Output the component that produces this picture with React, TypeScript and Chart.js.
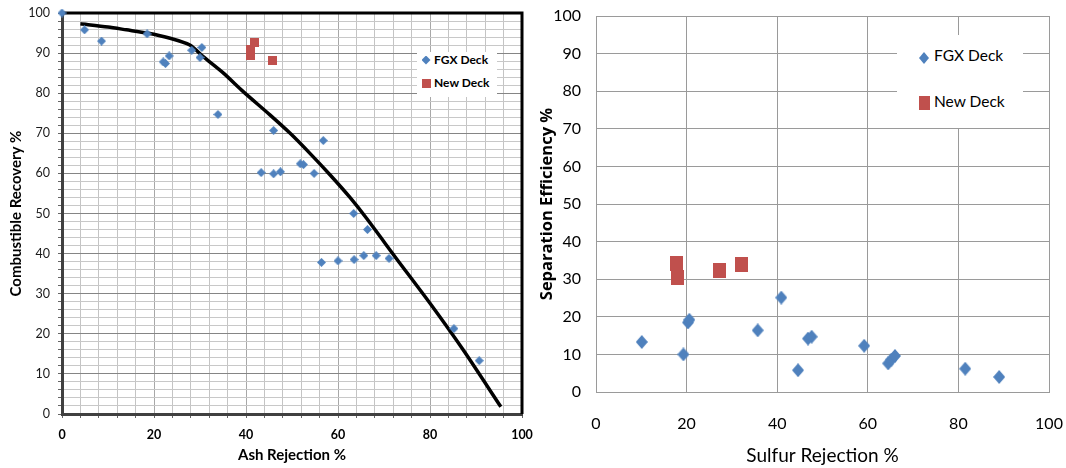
import React, { useEffect, useRef } from "react";
import { Chart, registerables } from "chart.js";
Chart.register(...registerables);

// ---------- Left chart data: Ash Rejection % vs Combustible Recovery % ----------
const fgxAshRejection = [0, 4.9, 8.6, 18.5, 22, 22.5, 23.3, 28.2, 30, 30.4, 33.9, 43.3, 46, 56.8, 46, 47.5, 51.8, 52.5, 54.8, 63.4, 66.4, 56.4, 60, 63.5, 65.6, 68.3, 71.1, 85.2, 90.7];
const fgxCombustibleRecovery = [100, 95.8, 93, 94.8, 87.8, 87.4, 89.3, 90.7, 88.9, 91.4, 74.7, 60.2, 70.7, 68.2, 59.9, 60.4, 62.4, 62.2, 60, 50, 46, 37.8, 38.2, 38.5, 39.5, 39.5, 38.8, 21.3, 13.3];
const newAshRejection = [41, 41, 41.9, 45.8];
const newCombustibleRecovery = [91, 89.5, 92.7, 88.2];
const trendAshRejection = [4, 10, 14, 18.5, 23.5, 27.8, 30.7, 35.1, 39.4, 45.2, 49.6, 53.9, 58.3, 62.6, 66.2, 72.8, 80, 87.2, 95.4];
const trendCombustibleRecovery = [97.3, 96.5, 95.8, 95, 93.7, 92, 89.1, 85, 80.4, 74.6, 70, 65, 59.6, 54, 48.8, 38.6, 27.6, 16, 1.8];

// ---------- Right chart data: Sulfur Rejection % vs Separation Efficiency % ----------
const fgxSulfurRejection = [10.1, 19.3, 20.3, 20.6, 35.7, 40.9, 44.6, 46.8, 47.6, 59.2, 64.5, 65.2, 66, 81.5, 89];
const fgxSeparationEfficiency = [13.3, 10, 18.5, 19.2, 16.4, 25.1, 5.8, 14.2, 14.7, 12.3, 7.6, 8.6, 9.6, 6.2, 4];
const newSulfurRejection = [17.7, 18.1, 27.2, 32.2];
const newSeparationEfficiency = [34.2, 30.5, 32.3, 34];

const seriesNames = ["FGX Deck", "New Deck"];
const leftXTitle = "Ash Rejection %";
const leftYTitle = "Combustible Recovery %";
const rightXTitle = "Sulfur Rejection %";
const rightYTitle = "Separation Efficiency %";

const BLUE = "#4F81BD";
const RED = "#C0504D";
const LEFT_FONT = "Lato, 'Open Sans', sans-serif";
const RIGHT_FONT = "Lato, 'Open Sans', sans-serif";
const RIGHT_TITLE_FONT = "'Open Sans', Lato, sans-serif";

function marker(shape: string, w: number, h: number, color: string) {
  const c = document.createElement("canvas");
  c.width = w;
  c.height = h;
  const ctx = c.getContext("2d")!;
  ctx.fillStyle = color;
  ctx.beginPath();
  if (shape === "diamond") {
    ctx.moveTo(w / 2, 0);
    ctx.lineTo(w, h / 2);
    ctx.lineTo(w / 2, h);
    ctx.lineTo(0, h / 2);
    ctx.closePath();
  } else {
    ctx.rect(0, 0, w, h);
  }
  ctx.fill();
  return c;
}

const pts = (xs: number[], ys: number[]) => xs.map((x, i) => ({ x, y: ys[i] }));

const framePlugin = {
  id: "frame",
  beforeDatasetsDraw(chart: any) {
    const { ctx, chartArea: a } = chart;
    ctx.save();
    ctx.strokeStyle = "#000";
    ctx.lineWidth = 3;
    ctx.beginPath();
    ctx.moveTo(a.left, a.top);
    ctx.lineTo(a.right, a.top);
    ctx.lineTo(a.right, a.bottom);
    ctx.stroke();
    ctx.restore();
  },
};

const noPad = (s: any) => {
  s.paddingLeft = 0;
  s.paddingRight = 0;
  s.paddingTop = 0;
  s.paddingBottom = 0;
};

export default function App() {
  const leftRef = useRef<HTMLCanvasElement>(null);
  const rightRef = useRef<HTMLCanvasElement>(null);

  useEffect(() => {
    let charts: Chart[] = [];
    let cancelled = false;
    const build = () => {
      if (cancelled) return;
      const left = new Chart(leftRef.current!, {
        type: "scatter",
        data: {
          datasets: [
            {
              label: seriesNames[0],
              data: pts(fgxAshRejection, fgxCombustibleRecovery),
              pointStyle: marker("diamond", 9, 9, BLUE) as any,
              pointRadius: 5,
              order: 1,
              clip: false as any,
            },
            {
              label: seriesNames[1],
              data: pts(newAshRejection, newCombustibleRecovery),
              pointStyle: marker("square", 9, 9, RED) as any,
              pointRadius: 5,
              order: 1,
              clip: false as any,
            },
            {
              label: "Trend",
              data: pts(trendAshRejection, trendCombustibleRecovery),
              showLine: true,
              borderColor: "#000",
              borderWidth: 3.5,
              pointRadius: 0,
              tension: 0.25,
              order: 3,
              clip: false as any,
            } as any,
          ],
        },
        options: {
          animation: false,
          responsive: false,
          devicePixelRatio: 1,
          layout: { padding: { top: 13, right: 13, left: 0, bottom: 0 } },
          plugins: { legend: { display: false }, tooltip: { enabled: false } },
          scales: {
            x: {
              type: "linear",
              min: 0,
              max: 100,
              ticks: {
                stepSize: 4,
                autoSkip: false,
                maxRotation: 0,
                callback: (v: any) => (v % 20 === 0 ? String(v) : ""),
                font: { family: LEFT_FONT, size: 12.5, weight: "bold" },
                color: "#000",
                padding: 9,
              },
              grid: {
                color: (c: any) => (c.tick && c.tick.value % 20 === 0 ? "#a8a8a8" : "#c4c4c4"),
                tickLength: 4,
                tickColor: "#666",
              },
              border: { color: "#404040", width: 3 },
              title: {
                display: true,
                text: leftXTitle,
                font: { family: LEFT_FONT, size: 15, weight: "bold" },
                color: "#000",
                padding: { top: 0, bottom: 4 },
              },
              afterFit: (s: any) => {
                s.height = 54;
                noPad(s);
              },
            },
            y: {
              type: "linear",
              min: 0,
              max: 100,
              ticks: {
                stepSize: 2,
                autoSkip: false,
                callback: (v: any) => (v % 10 === 0 ? String(v) : ""),
                font: { family: LEFT_FONT, size: 12.5 },
                color: "#1a1a1a",
                padding: 8,
              },
              grid: {
                color: (c: any) => (c.tick && c.tick.value % 10 === 0 ? "#858585" : "#c8c8c8"),
                tickLength: 4,
                tickColor: "#666",
              },
              border: { color: "#404040", width: 3 },
              title: {
                display: true,
                text: leftYTitle,
                font: { family: LEFT_FONT, size: 15, weight: "bold" },
                color: "#000",
                padding: { top: 7, bottom: 0 },
              },
              afterFit: (s: any) => {
                s.width = 62;
                noPad(s);
              },
            },
          },
        } as any,
        plugins: [framePlugin],
      });

      const right = new Chart(rightRef.current!, {
        type: "scatter",
        data: {
          datasets: [
            {
              label: seriesNames[0],
              data: pts(fgxSulfurRejection, fgxSeparationEfficiency),
              pointStyle: marker("diamond", 12, 14, BLUE) as any,
              pointRadius: 6,
              clip: false as any,
            },
            {
              label: seriesNames[1],
              data: pts(newSulfurRejection, newSeparationEfficiency),
              pointStyle: marker("square", 13, 15, RED) as any,
              pointRadius: 6,
              clip: false as any,
            },
          ],
        },
        options: {
          animation: false,
          responsive: false,
          devicePixelRatio: 1,
          layout: { padding: { top: 16, right: 17, left: 0, bottom: 0 } },
          plugins: { legend: { display: false }, tooltip: { enabled: false } },
          scales: {
            x: {
              type: "linear",
              min: 0,
              max: 100,
              ticks: {
                stepSize: 20,
                maxRotation: 0,
                font: { family: RIGHT_FONT, size: 16 },
                color: "#000",
                padding: 22,
              },
              grid: { color: "#9a9a9a", drawTicks: false },
              border: { color: "#9a9a9a", width: 1 },
              title: {
                display: true,
                text: rightXTitle,
                font: { family: RIGHT_FONT, size: 19 },
                color: "#000",
                padding: { top: 0, bottom: 1 },
              },
              afterFit: (s: any) => {
                s.height = 76;
                noPad(s);
              },
            },
            y: {
              type: "linear",
              min: 0,
              max: 100,
              ticks: {
                stepSize: 10,
                font: { family: RIGHT_FONT, size: 16 },
                color: "#000",
                padding: 15,
              },
              grid: { color: "#9a9a9a", drawTicks: false },
              border: { color: "#9a9a9a", width: 1 },
              title: {
                display: true,
                text: rightYTitle,
                font: { family: RIGHT_TITLE_FONT, size: 16.5, weight: "bold" },
                color: "#000",
                padding: { top: 2, bottom: 0 },
              },
              afterFit: (s: any) => {
                s.width = 61;
                noPad(s);
              },
            },
          },
        } as any,
      });
      charts = [left, right];
    };

    const loads = ["12px Lato", "bold 12px Lato", "bold 14px 'Open Sans'"].map((f) =>
      (document as any).fonts?.load(f).catch(() => null)
    );
    Promise.all(loads).then(build, build);

    return () => {
      cancelled = true;
      charts.forEach((c) => c.destroy());
    };
  }, []);

  const diamondClip = "polygon(50% 0, 100% 50%, 50% 100%, 0 50%)";
  const abs = (s: any) => ({ position: "absolute" as const, ...s });

  return (
    <div style={abs({ left: 0, top: 0, width: 1066, height: 468, background: "#fff", overflow: "hidden" })}>
      <canvas ref={leftRef} width={535} height={468} style={abs({ left: 0, top: 0 })} />
      <canvas ref={rightRef} width={531} height={468} style={abs({ left: 535, top: 0 })} />

      {/* Left legend */}
      <div style={abs({ left: 417, top: 52, width: 80, height: 45, background: "#fff" })} />
      <div style={abs({ left: 421.5, top: 55.5, width: 9, height: 9, background: BLUE, clipPath: diamondClip })} />
      <div style={abs({ left: 434, top: 52, height: 16, lineHeight: "16px", font: `bold 12px ${LEFT_FONT}`, color: "#000", whiteSpace: "nowrap" })}>{seriesNames[0]}</div>
      <div style={abs({ left: 422, top: 79, width: 9, height: 9, background: RED })} />
      <div style={abs({ left: 434, top: 75, height: 16, lineHeight: "16px", font: `bold 12px ${LEFT_FONT}`, color: "#000", whiteSpace: "nowrap" })}>{seriesNames[1]}</div>

      {/* Right legend */}
      <div style={abs({ left: 897, top: 35, width: 126, height: 93, background: "#fff" })} />
      <div style={abs({ left: 919, top: 52, width: 10, height: 12, background: BLUE, clipPath: diamondClip })} />
      <div style={abs({ left: 934, top: 46, height: 22, lineHeight: "22px", font: `15.5px ${RIGHT_FONT}`, color: "#000", whiteSpace: "nowrap" })}>{seriesNames[0]}</div>
      <div style={abs({ left: 919, top: 96, width: 11, height: 14, background: RED })} />
      <div style={abs({ left: 934, top: 92, height: 22, lineHeight: "22px", font: `15.5px ${RIGHT_FONT}`, color: "#000", whiteSpace: "nowrap" })}>{seriesNames[1]}</div>
    </div>
  );
}
